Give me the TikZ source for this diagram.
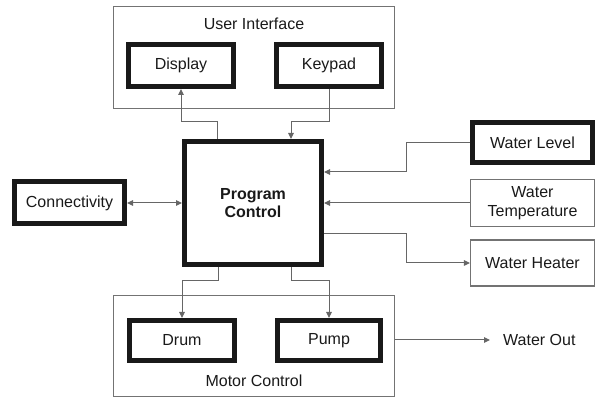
\documentclass[tikz,border=0pt]{standalone}
\usepackage{fontspec}
\setmainfont{Liberation Sans}
\usepackage{tikz}
\usetikzlibrary{arrows.meta}

\begin{document}
\begin{tikzpicture}[x=1pt,y=1pt]
        \tikzstyle{every node}+=[font=\fontsize{16}{18.5}\selectfont, text=black!90, align=center]
        \tikzstyle{thinbox}=[draw=black!55, line width=1.1pt, inner sep=0pt]
        \tikzstyle{thickbox}=[draw=black!90, line width=5pt, inner sep=0pt]
        \tikzstyle{arr}=[draw=black!60, line width=1pt, -{Triangle[length=6pt,width=5.5pt]}]
        \useasboundingbox (0,0) rectangle (597,398);
        % groups
        \node [thinbox, minimum width=281, minimum height=102] (ui) at (254,340.5) {};
        \node (uilabel) at (254,374) {User Interface};
        \node [thinbox, minimum width=281, minimum height=101] (motor) at (254,52) {};
        \node (motorlabel) at (254,17) {Motor Control};
        % blocks
        \node [thickbox, minimum width=105, minimum height=42] (display) at (181,332.5) {Display};
        \node [thickbox, minimum width=105, minimum height=42] (keypad) at (329,332.5) {Keypad};
        \node [thickbox, minimum width=137, minimum height=123, font=\fontsize{16}{18.5}\selectfont\bfseries] (pc) at (253,195) {Program\\Control};
        \node [thickbox, minimum width=110, minimum height=42] (conn) at (69.5,195) {Connectivity};
        \node [thickbox, minimum width=120, minimum height=40] (level) at (532.5,255.5) {Water Level};
        \node [thinbox, minimum width=124, minimum height=47] (temp) at (532.5,195) {Water\\Temperature};
        \node [thinbox, minimum width=124, minimum height=46] (heater) at (532.5,135) {Water Heater};
        \node [thickbox, minimum width=105, minimum height=40] (drum) at (182,57.5) {Drum};
        \node [thickbox, minimum width=103, minimum height=40] (pump) at (329,57.5) {Pump};
        \node [anchor=west, inner sep=0pt] (wout) at (503,58) {Water Out};
        % connectors
        \draw [arr] ([xshift=-36]pc.north) -- ([xshift=-36,yshift=17]pc.north) -| (display.south);
        \draw [arr] (keypad.south) |- ([xshift=38,yshift=17]pc.north) -- ([xshift=38]pc.north);
        \draw [arr, {Triangle[length=6pt,width=5.5pt]}-{Triangle[length=6pt,width=5.5pt]}] (conn.east) -- (pc.west);
        \draw [arr] (level.west) -- ++(-64,0) |- ([yshift=31]pc.east);
        \draw [arr] (temp.west) -- (pc.east);
        \draw [arr] ([yshift=-31]pc.east) -- ++(82,0) |- (heater.west);
        \draw [arr] ([xshift=-35]pc.south) -- ([xshift=-35,yshift=-14]pc.south) -| (drum.north);
        \draw [arr] ([xshift=38]pc.south) -- ([xshift=38,yshift=-14]pc.south) -| (pump.north);
        \draw [arr] (motor.east |- wout.west) -- ([xshift=-13]wout.west);
\end{tikzpicture}
\end{document}
